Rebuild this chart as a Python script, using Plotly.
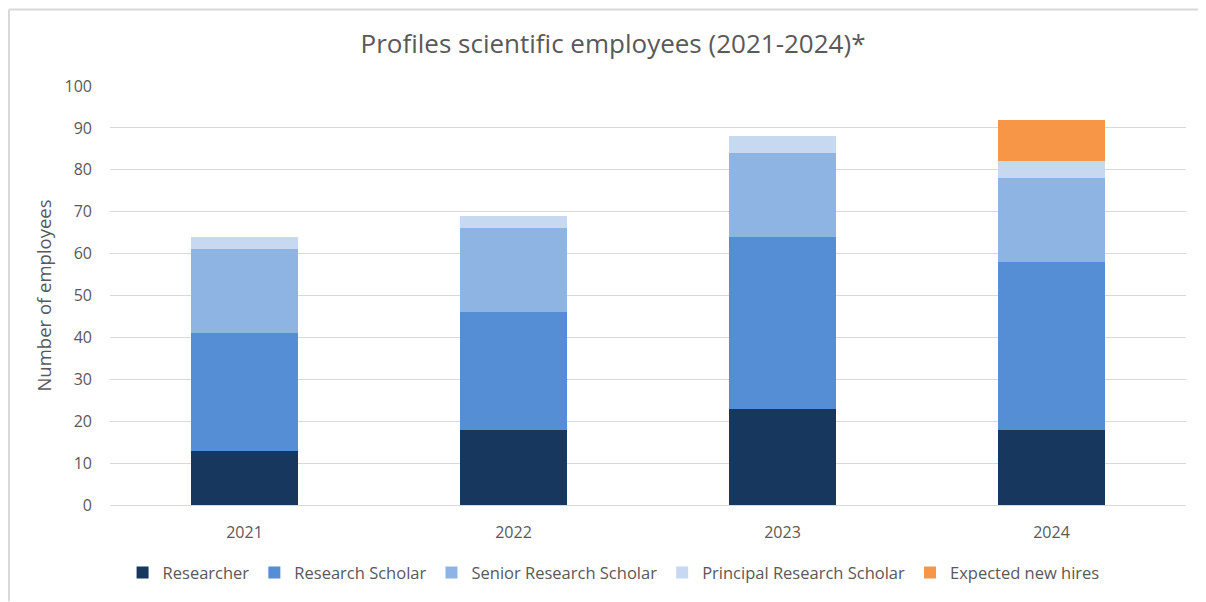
import plotly.graph_objects as go

years = ["2021", "2022", "2023", "2024"]
researcher = [13, 18, 23, 18]
research_scholar = [28, 28, 41, 40]
senior_research_scholar = [20, 20, 20, 20]
principal_research_scholar = [3, 3, 4, 4]
expected_new_hires = [None, None, None, 10]

series = [
    ("Researcher", researcher, "#17375E"),
    ("Research Scholar", research_scholar, "#558ED5"),
    ("Senior Research Scholar", senior_research_scholar, "#8EB4E3"),
    ("Principal Research Scholar", principal_research_scholar, "#C6D9F1"),
    ("Expected new hires", expected_new_hires, "#F79646"),
]

fig = go.Figure()
for name, vals, color in series:
    fig.add_trace(go.Bar(x=years, y=vals, name=name,
                         marker=dict(color=color, line=dict(width=0))))

grey = "#595959"
# page adds an 8px offset, so the figure is 8px smaller and margins shifted
fig.update_layout(
    barmode="stack",
    bargap=0.6,
    width=1198, height=594,
    margin=dict(l=102, r=20, t=78, b=94),
    paper_bgcolor="white", plot_bgcolor="white",
    font=dict(family="Open Sans, sans-serif", size=15, color=grey),
    title=dict(text="Profiles scientific employees (2021-2024)*",
               x=0.505, xanchor="center", y=0.939, yanchor="middle",
               font=dict(size=26, color=grey)),
    legend=dict(orientation="h", x=0.468, xanchor="center",
                y=-0.162, yanchor="middle", font=dict(size=16.5, color=grey),
                itemwidth=30, traceorder="normal"),
    showlegend=True,
)
fig.update_yaxes(range=[0, 100], dtick=10, showgrid=True, gridcolor="#D9D9D9",
                 gridwidth=1, zeroline=True, zerolinecolor="#D9D9D9",
                 zerolinewidth=1, showline=False, ticklabelstandoff=17,
                 tickfont=dict(size=16, color=grey),
                 title=dict(text="Number of employees", standoff=8,
                            font=dict(size=18.5, color=grey)))
fig.update_xaxes(showline=False, tickfont=dict(size=16, color=grey),
                 ticklabelstandoff=16)

# chart-area border (left and top visible)
fig.add_shape(type="line", xref="paper", yref="paper",
              x0=-0.0939, x1=-0.0939, y0=-0.23, y1=1.1825,
              line=dict(color="#D9D9D9", width=2))
fig.add_shape(type="line", xref="paper", yref="paper",
              x0=-0.0939, x1=1.03, y0=1.1825, y1=1.1825,
              line=dict(color="#D9D9D9", width=2))

fig.write_html("out.html")
